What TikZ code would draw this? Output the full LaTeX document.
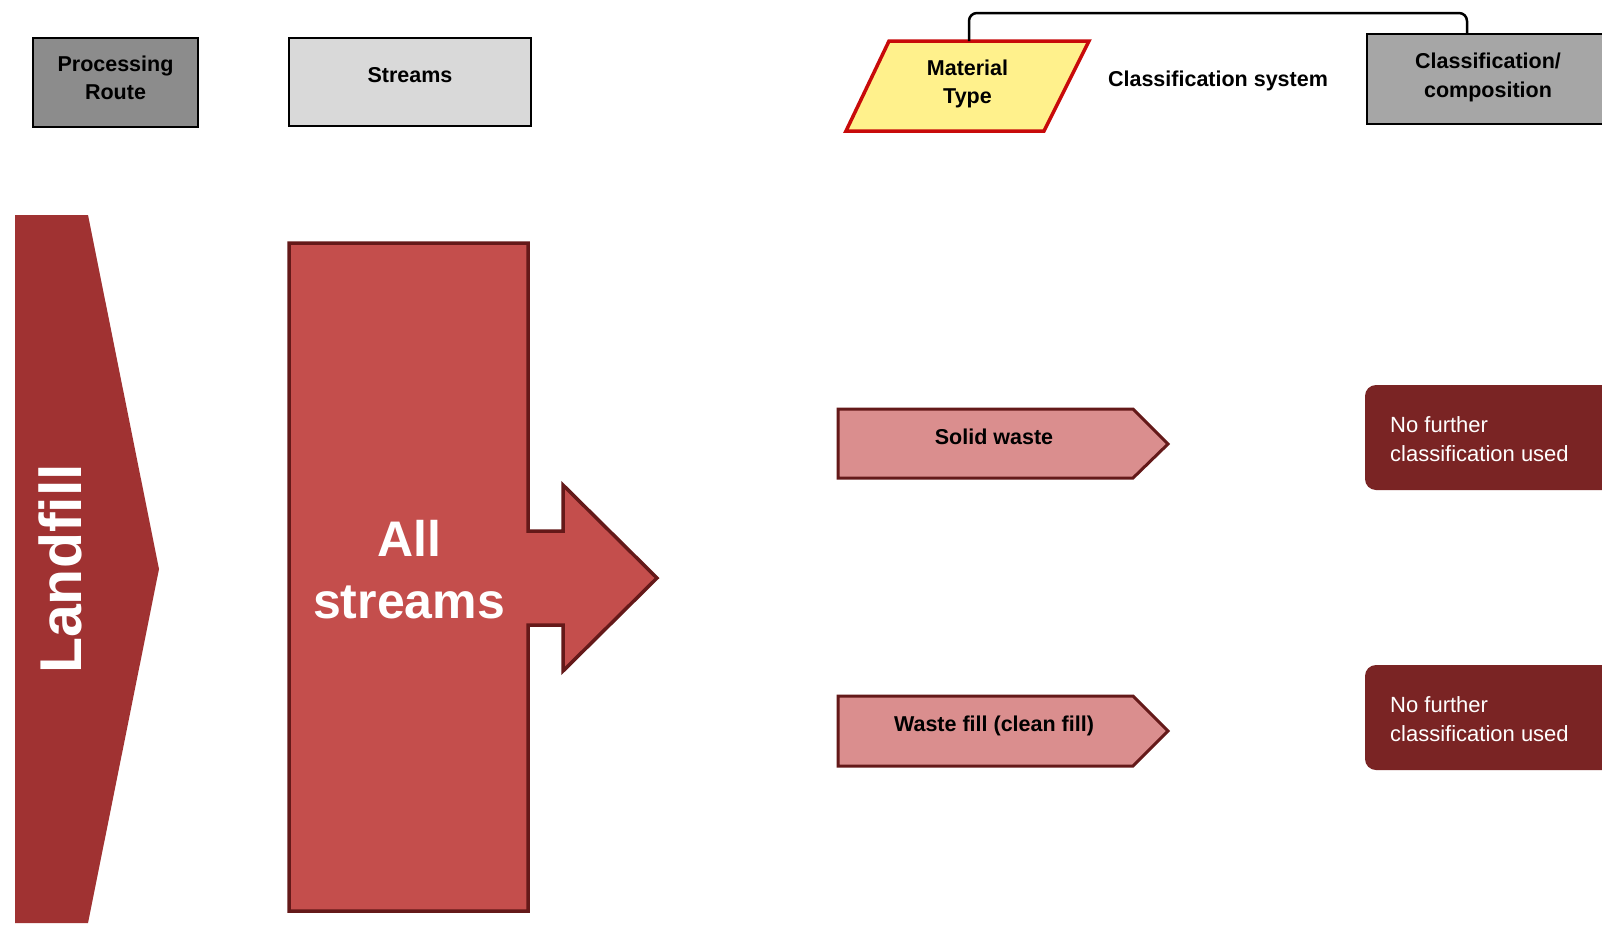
\documentclass[tikz,border=0pt]{standalone}
\usepackage{fontspec}
\setmainfont{Liberation Sans}
\definecolor{lfred}{RGB}{160,50,50}
\definecolor{asred}{RGB}{196,78,76}
\definecolor{asborder}{RGB}{100,25,25}
\definecolor{pinkfill}{RGB}{218,142,142}
\definecolor{darkbox}{RGB}{122,36,36}
\definecolor{matyellow}{RGB}{255,241,140}
\definecolor{matred}{RGB}{200,10,10}
\definecolor{greyA}{RGB}{140,140,140}
\definecolor{greyB}{RGB}{217,217,217}
\definecolor{greyC}{RGB}{166,166,166}
\tikzset{
  hdr/.style={font=\bfseries\fontsize{21.5}{28.5}\selectfont, align=center, text=black, inner sep=0pt},
  hdrbox/.style={draw=black, line width=2.5pt},
  pinkarrow/.style={fill=pinkfill, draw=asborder, line width=3pt, line join=miter},
  darkfill/.style={fill=darkbox, rounded corners=11pt},
  notetext/.style={font=\fontsize{22}{29.5}\selectfont, text=white, align=left, inner sep=0pt, anchor=west},
  bigwhite/.style={font=\bfseries, text=white, align=center, inner sep=0pt}
}
\begin{document}
\begin{tikzpicture}[x=1pt,y=-1pt]
\useasboundingbox (0,0) rectangle (1602,926);
\fill[white] (0,0) rectangle (1602,926);

% header boxes
\draw[hdrbox, fill=greyA] (33,38) rectangle (198,127);
\node[hdr] (proc) at (115.5,78) {Processing\\Route};
\draw[hdrbox, fill=greyB] (289,38) rectangle (531,126);
\node[hdr] (streams) at (410,75) {Streams};

% material type parallelogram
\draw[fill=matyellow, draw=matred, line width=3.5pt, line join=miter]
  (846,131) -- (889,41) -- (1089,41) -- (1044,131) -- cycle;
\node[hdr] (mat) at (967.5,84) {Material\\Type};
\coordinate (matTop) at (969,41);

\node[hdr] (clsys) at (1218,81) {Classification system};

\draw[hdrbox, fill=greyC] (1367,34) rectangle (1615,124);
\node[hdr] (clcomp) at (1488,77.5) {Classification/\\composition};
\coordinate (ccTop) at (1467,34);

\draw[black, line width=2.5pt, rounded corners=8pt] (matTop) -- (969,13) -- (1467,13) -- (ccTop);

% landfill chevron
\fill[lfred] (15,215) -- (88,215) -- (159,569) -- (88,923) -- (15,923) -- cycle;
\node[bigwhite, rotate=90, font=\bfseries\fontsize{59}{60}\selectfont] (landfill) at (60,569) {Landfill};

% all streams block with arrow
\draw[fill=asred, draw=asborder, line width=3.5pt, line join=miter]
  (289,243) -- (528,243) -- (528,531) -- (563,531) -- (563,485) -- (657,578)
  -- (563,671) -- (563,625) -- (528,625) -- (528,911) -- (289,911) -- cycle;
\node[bigwhite, font=\bfseries\fontsize{50}{62}\selectfont] (allstreams) at (409,570) {All\\streams};

% material arrows
\draw[pinkarrow] (838,409) -- (1133,409) -- (1168,444) -- (1133,478) -- (838,478) -- cycle;
\node[hdr] (solid) at (994,437) {Solid waste};
\draw[pinkarrow] (838,696) -- (1133,696) -- (1168,731) -- (1133,766) -- (838,766) -- cycle;
\node[hdr] (fill) at (994,726) {Waste fill (clean fill)};

% dark boxes
\fill[darkfill] (1365,385) rectangle (1625,490);
\node[notetext] (nf1) at (1390,439) {No further\\classification used};
\fill[darkfill] (1365,665) rectangle (1625,770);
\node[notetext] (nf2) at (1390,719) {No further\\classification used};
\end{tikzpicture}
\end{document}
